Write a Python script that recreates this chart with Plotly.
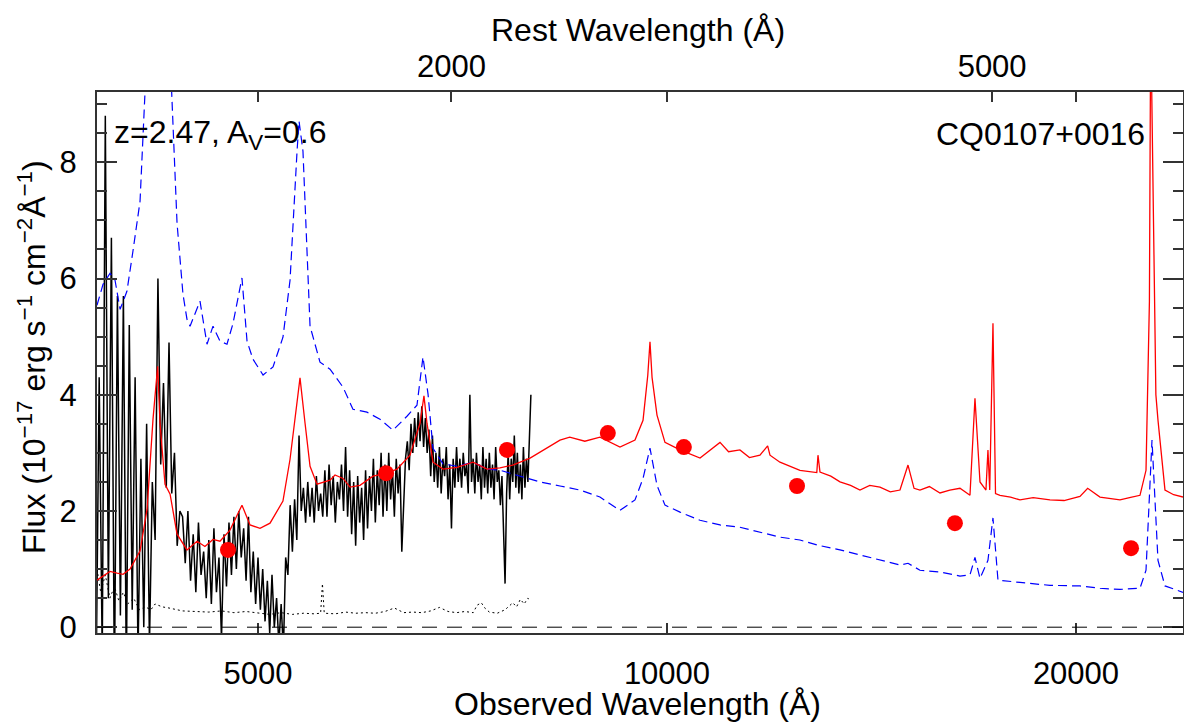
import numpy as np
import plotly.graph_objects as go

z = 2.47
av = 0.6
obs_range = [3806, 23977]
flux_range = [-0.1, 9.21]

# observed optical spectrum (black)
spec_wave = [
    3800, 3820, 3840, 3860, 3880, 3900, 3920, 3940, 3960, 3980,
    4000, 4020, 4040, 4060, 4080, 4100, 4120, 4140, 4160, 4180,
    4200, 4220, 4240, 4260, 4280, 4300, 4320, 4340, 4360, 4380,
    4400, 4420, 4440, 4460, 4480, 4500, 4520, 4540, 4560, 4580,
    4600, 4620, 4640, 4660, 4680, 4700, 4720, 4740, 4760, 4780,
    4800, 4820, 4840, 4860, 4880, 4900, 4920, 4940, 4960, 4980,
    5000, 5020, 5040, 5060, 5080, 5100, 5120, 5140, 5160, 5180,
    5200, 5220, 5240, 5260, 5280, 5300, 5320, 5340, 5360, 5380,
    5400, 5420, 5440, 5460, 5480, 5500, 5520, 5540, 5560, 5580,
    5600, 5620, 5640, 5660, 5680, 5700, 5720, 5740, 5760, 5780,
    5800, 5820, 5840, 5860, 5880, 5900, 5920, 5940, 5960, 5980,
    6000, 6020, 6040, 6060, 6080, 6100, 6120, 6140, 6160, 6180,
    6200, 6220, 6240, 6260, 6280, 6300, 6320, 6340, 6360, 6380,
    6400, 6420, 6440, 6460, 6480, 6500, 6520, 6540, 6560, 6580,
    6600, 6620, 6640, 6660, 6680, 6700, 6720, 6740, 6760, 6780,
    6800, 6820, 6840, 6860, 6880, 6900, 6920, 6940, 6960, 6980,
    7000, 7020, 7040, 7060, 7080, 7100, 7120, 7140, 7160, 7180,
    7200, 7220, 7240, 7260, 7280, 7300, 7320, 7340, 7360, 7380,
    7400, 7420, 7440, 7460, 7480, 7500, 7520, 7540, 7560, 7580,
    7600, 7620, 7640, 7660, 7680, 7700, 7720, 7740, 7760, 7780,
    7800, 7820, 7840, 7860, 7880, 7900, 7920, 7940,
]
spec_flux = [
    -1.0, 4.3, -0.5, 8.8, 0.5, 6.7, -1.0, 5.7, 0.2, 5.7,
    -0.8, 5.2, 0.3, 4.3, -0.5, 2.9, 0.0, 3.5, -0.3, 2.5,
    1.5, 6.0, 2.8, 4.2, 2.4, 4.9, 2.3, 3.0, 1.4, 2.0,
    1.9, 1.1, 2.0, 0.8, 1.6, 0.6, 1.8, 0.9, 1.3, 0.5,
    1.5, 0.4, 1.7, 0.6, 1.2, -0.2, 1.6, 0.7, 1.8, 0.9,
    1.9, 1.0, 2.0, 1.2, 1.7, 0.8, 1.9, 0.6, 1.3, 0.4,
    1.2, 0.3, 1.0, 0.1, 0.8, -0.1, 0.9, 0.0, 0.5, -0.3,
    0.4, -0.4, 1.2, 0.9, 2.1, 1.3, 2.2, 1.5, 3.3, 2.0,
    2.4, 1.8, 2.5, 1.9, 2.4, 1.8, 2.6, 2.0, 2.3, 1.9,
    2.7, 1.9, 2.8, 2.1, 2.6, 1.8, 2.5, 2.2, 2.8, 2.0,
    3.1, 1.9, 2.7, 1.6, 2.5, 1.4, 2.6, 1.8, 2.4, 1.5,
    2.7, 1.7, 2.6, 2.0, 2.9, 1.8, 2.7, 2.1, 3.0, 1.9,
    2.8, 2.0, 3.0, 2.2, 2.7, 1.9, 2.9, 2.3, 2.8, 1.3,
    2.1, 2.9, 3.2, 2.7, 3.5, 3.0, 3.6, 3.1, 3.7, 3.2,
    3.8, 3.1, 3.6, 3.0, 3.4, 2.6, 3.3, 2.5, 3.0, 2.4,
    3.1, 2.3, 2.9, 2.6, 3.1, 2.2, 2.8, 1.7, 2.9, 2.4,
    3.1, 2.5, 2.9, 2.4, 3.0, 2.6, 2.8, 2.3, 4.0, 2.5,
    2.9, 2.3, 3.0, 2.5, 2.8, 2.2, 3.1, 2.4, 2.9, 2.3,
    3.0, 2.4, 2.8, 2.2, 3.1, 2.5, 2.7, 2.1, 2.6, 1.6,
    0.75, 2.3, 3.0, 2.2, 2.9, 2.5, 3.3, 2.4, 3.0, 2.3,
    2.8, 2.2, 3.1, 2.4, 2.9, 2.5, 3.2, 4.0,
]

# error spectrum (dotted)
err_wave = [3806, 3830, 3860, 3890, 3920, 3950, 3980, 4010, 4050, 4090,
            4130, 4170, 4200, 4250, 4300, 4350, 4400, 4500, 4600, 4700,
            4800, 4900, 5000, 5100, 5200, 5300, 5400, 5500, 5560, 5577,
            5594, 5700, 5800, 5900, 6000, 6100, 6200, 6300, 6400, 6500,
            6600, 6700, 6800, 6900, 7000, 7100, 7200, 7250, 7300, 7350,
            7400, 7500, 7600, 7700, 7750, 7800, 7850, 7900, 7940]
err_flux = [1.0, 0.6, 0.9, 0.5, 0.7, 0.45, 0.6, 0.4, 0.5, 0.3,
            0.35, 0.3, 0.4, 0.35, 0.33, 0.3, 0.28, 0.27, 0.26, 0.28,
            0.25, 0.27, 0.24, 0.22, 0.25, 0.22, 0.24, 0.23, 0.24, 0.75,
            0.24, 0.23, 0.26, 0.24, 0.25, 0.24, 0.27, 0.33, 0.25, 0.26,
            0.25, 0.28, 0.34, 0.27, 0.25, 0.27, 0.25, 0.38, 0.42, 0.32,
            0.26, 0.24, 0.3, 0.42, 0.35, 0.48, 0.4, 0.5, 0.45]

# reddened quasar template (red)
model_wave = [3806, 3891, 3938, 3978, 4025, 4094, 4143, 4185, 4218, 4235,
              4271, 4308, 4359, 4433, 4509, 4570, 4633, 4688, 4768, 4866,
              4933, 5017, 5103, 5216, 5279, 5342, 5369, 5415, 5461, 5526,
              5649, 5697, 5775, 5844, 5943, 6076, 6222, 6328, 6469, 6580,
              6624, 6658, 6726, 6841, 7005, 7198, 7371, 7535, 7700, 7929,
              8200, 8341, 8480, 8700, 8926, 9234, 9472, 9602, 9680, 9716,
              9750, 9832, 9966, 10223, 10576, 10760, 10940, 11100, 11316, 11500,
              11706, 11860, 11907, 12110, 12300, 12528, 12890, 12916, 12960, 13200,
              13407, 13650, 13869, 14100, 14347, 14600, 14842, 15045, 15200, 15353,
              15600, 15883, 16150, 16430, 16711, 16853, 16997, 17170, 17228, 17280,
              17375, 17450, 17583, 17900, 18189, 18600, 19137, 19600, 20135, 20400,
              20830, 21200, 21548, 21900, 22291, 22520, 22650, 22700, 22800, 22900,
              22982, 23256, 23600, 23977]
model_flux = [0.81, 0.96, 0.93, 0.91, 1.00, 1.31, 2.03, 3.58, 4.49, 3.51,
              2.46, 2.29, 1.60, 1.33, 1.48, 1.39, 1.51, 1.48, 1.67, 2.10,
              1.76, 1.70, 1.79, 2.17, 2.89, 3.89, 4.29, 3.51, 2.77, 2.46,
              2.53, 2.62, 2.56, 2.41, 2.44, 2.60, 2.65, 2.72, 2.96, 3.51,
              3.98, 3.51, 2.84, 2.72, 2.75, 2.84, 2.72, 2.74, 2.79, 2.91,
              3.12, 3.22, 3.27, 3.20, 3.27, 3.10, 3.22, 3.56, 4.34, 4.91,
              4.30, 3.65, 3.18, 3.05, 2.91, 3.05, 3.18, 3.02, 3.05, 2.92,
              2.96, 3.12, 2.96, 2.84, 2.78, 2.70, 2.66, 2.96, 2.67, 2.60,
              2.50, 2.44, 2.36, 2.44, 2.41, 2.33, 2.36, 2.79, 2.39, 2.36,
              2.42, 2.31, 2.36, 2.39, 2.27, 3.94, 2.50, 2.36, 3.05, 2.36,
              5.23, 2.30, 2.27, 2.24, 2.19, 2.23, 2.19, 2.18, 2.25, 2.39,
              2.24, 2.21, 2.19, 2.23, 2.27, 2.70, 5.60, 10.5, 7.30, 4.00,
              3.56, 2.36, 2.28, 2.24]

# unreddened template (blue dashed)
unred_wave = [3806, 3845, 3891, 3924, 3958, 4004, 4045, 4094, 4128, 4164,
              4213, 4271, 4322, 4359, 4403, 4433, 4456, 4532, 4586, 4633,
              4688, 4744, 4793, 4866, 4908, 4958, 5043, 5129, 5216, 5279,
              5342, 5360, 5396, 5461, 5554, 5649, 5775, 5873, 6014, 6148,
              6285, 6436, 6546, 6613, 6670, 6726, 6841, 7005, 7198, 7371,
              7535, 7795, 8063, 8341, 8629, 8926, 9234, 9472, 9602, 9716,
              9832, 9966, 10223, 10576, 10940, 11316, 11706, 12110, 12528, 12916,
              13407, 13869, 14347, 14842, 15045, 15353, 15883, 16430, 16711, 16853,
              16997, 17228, 17375, 17523, 18189, 19137, 20135, 20830, 21548, 22291,
              22520, 22750, 22982, 23256, 23977]
unred_flux = [5.54, 5.90, 6.09, 5.97, 5.47, 5.78, 6.47, 7.33, 9.17, 14.0,
              16.0, 12.0, 9.17, 6.95, 5.73, 5.30, 5.18, 5.61, 4.87, 5.18,
              4.92, 4.87, 5.23, 6.01, 4.92, 4.61, 4.34, 4.48, 4.99, 5.97,
              8.19, 8.71, 8.19, 5.18, 4.56, 4.44, 4.13, 3.75, 3.70, 3.58,
              3.39, 3.63, 3.82, 4.65, 4.01, 3.08, 2.81, 2.77, 2.84, 2.72,
              2.70, 2.60, 2.50, 2.43, 2.36, 2.24, 2.01, 2.19, 2.56, 3.08,
              2.44, 2.10, 1.98, 1.84, 1.76, 1.72, 1.64, 1.55, 1.50, 1.41,
              1.33, 1.24, 1.15, 1.07, 1.10, 0.98, 0.95, 0.88, 0.90, 1.20,
              0.84, 1.15, 1.88, 0.81, 0.77, 0.72, 0.71, 0.67, 0.65, 0.67,
              0.98, 3.22, 1.15, 0.71, 0.60]

# broad-band photometry (red dots)
phot_wave = [4752, 6212, 7625, 9046, 10290, 12465, 16290, 21955]
phot_flux = [1.33, 2.65, 3.05, 3.34, 3.10, 2.43, 1.79, 1.36]

font_family = "Liberation Sans, Arial, Helvetica, sans-serif"
axis_col = "#333333"

fig = go.Figure()
fig.add_trace(go.Scatter(x=spec_wave, y=spec_flux, mode="lines",
                         line=dict(color="black", width=1.5)))
fig.add_trace(go.Scatter(x=err_wave, y=err_flux, mode="lines",
                         line=dict(color="black", width=1, dash="2px,3px")))
fig.add_trace(go.Scatter(x=unred_wave, y=unred_flux, mode="lines",
                         line=dict(color="blue", width=1.2, dash="9px,5px")))
fig.add_trace(go.Scatter(x=model_wave, y=model_flux, mode="lines",
                         line=dict(color="red", width=1.3)))
fig.add_trace(go.Scatter(x=phot_wave, y=phot_flux, mode="markers",
                         marker=dict(color="red", size=16, line=dict(width=0))))

fig.add_hline(y=0, line=dict(color="black", width=1, dash="15px,10px"))

rest_lo = obs_range[0] / (1 + z)
rest_hi = obs_range[1] / (1 + z)

fig.update_layout(
    width=1184, height=727,
    margin=dict(l=97, r=1, t=92, b=94),
    paper_bgcolor="white", plot_bgcolor="white",
    showlegend=False,
    font=dict(family=font_family, size=31, color="black"),
    xaxis=dict(
        type="log", range=[np.log10(obs_range[0]), np.log10(obs_range[1])],
        tickvals=[5000, 10000, 20000], ticktext=["5000", "10000", "20000"],
        ticks="inside", ticklen=10, tickwidth=1.5, tickcolor=axis_col,
        showline=True, linecolor=axis_col, linewidth=2, mirror="ticks",
        showgrid=False, zeroline=False, ticklabelstandoff=12, automargin=False,
    ),
    xaxis2=dict(
        type="log", range=[np.log10(rest_lo), np.log10(rest_hi)],
        overlaying="x", side="top", anchor="y",
        tickvals=[2000, 5000], ticktext=["2000", "5000"],
        ticks="inside", ticklen=10, tickwidth=1.5, tickcolor=axis_col,
        showline=False, showgrid=False, zeroline=False, ticklabelstandoff=8,
        automargin=False,
    ),
    yaxis=dict(
        range=flux_range, tick0=0, dtick=2,
        ticks="inside", ticklen=20, tickwidth=1.5, tickcolor=axis_col,
        minor=dict(dtick=0.5, tick0=0, ticks="inside", ticklen=10,
                   tickcolor=axis_col, tickwidth=1.5, showgrid=False),
        showline=True, linecolor=axis_col, linewidth=2, mirror="ticks",
        showgrid=False, zeroline=False, ticklabelstandoff=12, automargin=False,
    ),
    annotations=[
        dict(text="z=%.2f, A<sub>V</sub>=%.1f" % (z, av), xref="paper", yref="paper",
             x=0.0138, y=0.922, xanchor="left", yanchor="middle", showarrow=False,
             font=dict(size=32)),
        dict(text="CQ0107+0016", xref="paper", yref="paper",
             x=0.967, y=0.922, xanchor="right", yanchor="middle", showarrow=False,
             font=dict(size=32)),
        dict(text="Observed Wavelength (Å)", xref="paper", yref="paper",
             x=0.498, y=-0.1312, xanchor="center", yanchor="middle", showarrow=False,
             font=dict(size=32)),
        dict(text="Rest Wavelength (Å)", xref="paper", yref="paper",
             x=0.498, y=1.1146, xanchor="center", yanchor="middle", showarrow=False,
             font=dict(size=32)),
        dict(text="Flux (10<sup>−17</sup> erg s<sup>−1</sup> cm<sup>−2</sup>Å<sup>−1</sup>)",
             xref="paper", yref="paper", textangle=-90,
             x=-0.0599, y=0.51, xanchor="center", yanchor="middle", showarrow=False,
             font=dict(size=32)),
    ],
)
fig.add_trace(go.Scatter(x=[rest_lo, rest_hi], y=[None, None], xaxis="x2", yaxis="y",
                         mode="lines", hoverinfo="skip"))

fig.write_html("out.html", config={"displayModeBar": False},
               post_script="document.body.style.margin='0';")
